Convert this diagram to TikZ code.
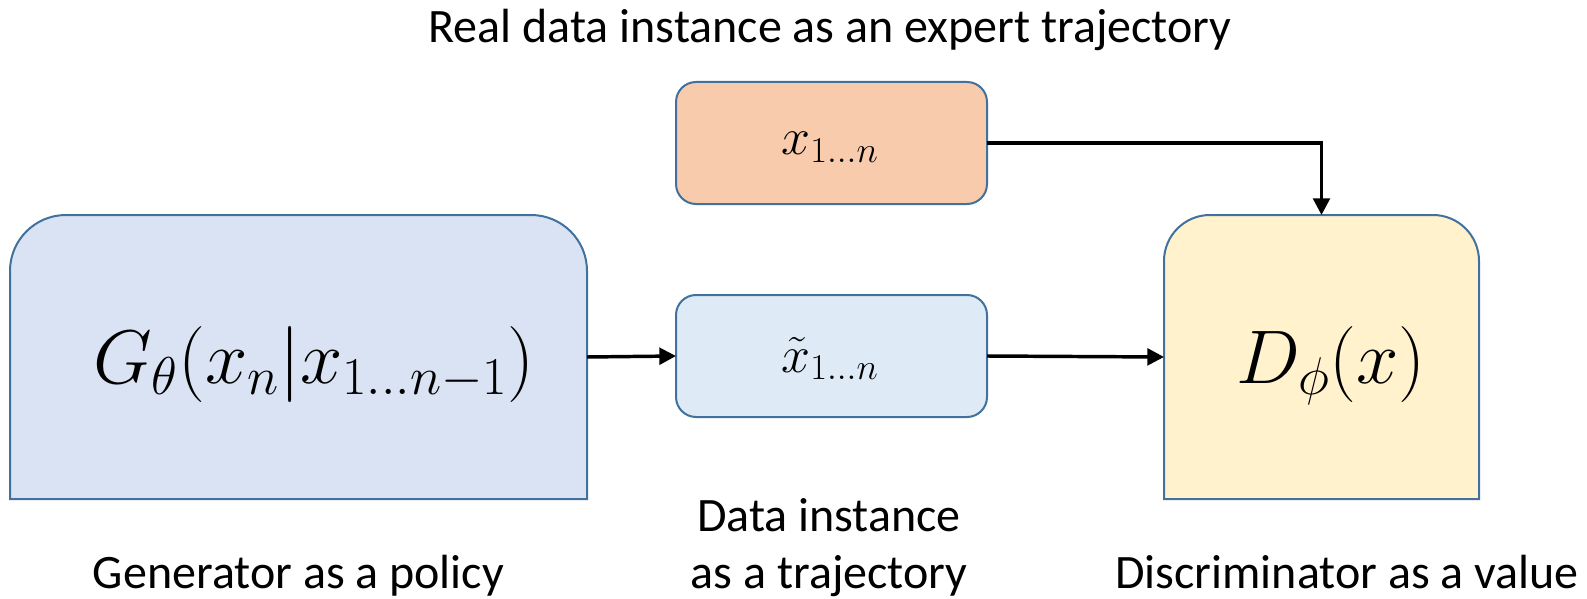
\RequirePackage{fix-cm}
\documentclass[tikz,border=0pt]{standalone}
\usepackage{fontspec}
\setmainfont{Carlito}
\usetikzlibrary{arrows.meta,backgrounds}

\definecolor{edgeblue}{HTML}{41719C}
\definecolor{genfill}{HTML}{DAE3F3}
\definecolor{realfill}{HTML}{F8CBAD}
\definecolor{fakefill}{HTML}{DEEBF7}
\definecolor{discfill}{HTML}{FFF2CC}

% outline of a node whose two top corners are rounded (radius #2, control offset #3)
\newcommand\topRoundOutline[3]{%
  (#1.south west) -- ([yshift=-#2]#1.north west)
  .. controls ([yshift=-#3]#1.north west) and ([xshift=#3]#1.north west) .. ([xshift=#2]#1.north west)
  -- ([xshift=-#2]#1.north east)
  .. controls ([xshift=-#3]#1.north east) and ([yshift=-#3]#1.north east) .. ([yshift=-#2]#1.north east)
  -- (#1.south east) -- cycle}

\begin{document}
\begin{tikzpicture}[x=0.75pt,y=-0.75pt,
  frame/.style={inner sep=0pt, outer sep=0pt},
  smallbox/.style={frame, draw=edgeblue, line width=1.5pt, rounded corners=15pt,
                   minimum width=233.25pt, minimum height=91.5pt},
  bigoutline/.style={draw=edgeblue, line width=1.5pt},
  conn/.style={line width=2.6pt, -{Triangle[length=12.5pt,width=12.5pt]}},
  caption/.style={anchor=base, inner sep=0pt, font=\fontsize{36}{43}\selectfont},
  bigmath/.style={anchor=base, inner sep=0pt, font=\fontsize{57}{64}\selectfont},
  smallmath/.style={anchor=base, inner sep=0pt, font=\fontsize{39}{46}\selectfont}]

\useasboundingbox (0,0) rectangle (1587,599);

% box frames
\node[frame, minimum width=432.75pt, minimum height=213pt] (G) at (298.5,357) {};
\node[frame, minimum width=236.25pt, minimum height=213pt] (D) at (1321.5,357) {};
\node[smallbox, fill=realfill] (X) at (831.5,143) {};
\node[smallbox, fill=fakefill] (XT) at (831.5,356) {};

\begin{scope}[on background layer]
  \draw[bigoutline, fill=genfill] \topRoundOutline{G}{42pt}{18.8pt};
  \draw[bigoutline, fill=discfill] \topRoundOutline{D}{34.5pt}{15.45pt};
\end{scope}

% formulas
\node[bigmath] (Gtext) at (314,383) {$G_\theta(x_n|x_{1\ldots n-1})$};
\node[bigmath] (Dtext) at (1331,383) {$D_\phi(x)$};
\node[smallmath] (Xtext) at (830,155) {$x_{1\ldots n}$};
\node[smallmath] (XTtext) at (830,372) {$\tilde{x}_{1\ldots n}$};

% captions
\node[caption] (title) at (830,43) {Real data instance as an expert trajectory};
\node[caption] (genlabel) at (298.5,588) {Generator as a policy};
\node[caption] (datalabel1) at (829,531) {Data instance};
\node[caption] (datalabel2) at (829,588) {as a trajectory};
\node[caption] (disclabel) at (1347,588) {Discriminator as a value};

% connectors
\draw[conn] (X.east) -| (D.north);
\draw[conn] (G.east) -- (XT.west);
\draw[conn] (XT.east) -- (D.west);
\end{tikzpicture}
\end{document}
